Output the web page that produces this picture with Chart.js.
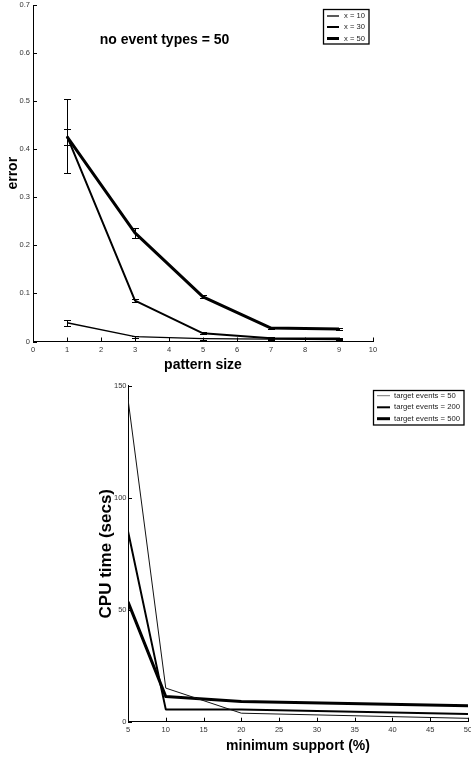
<!DOCTYPE html>
<html><head><meta charset="utf-8">
<script src="https://cdn.jsdelivr.net/npm/chart.js@4.4.0/dist/chart.umd.min.js"></script>
<style>
html,body{margin:0;padding:0;background:#fff;width:471px;height:757px;overflow:hidden}
#c1{position:absolute;left:0;top:0}
#c2{position:absolute;left:0;top:375px}
</style></head><body>
<canvas id="c1" width="471" height="375"></canvas>
<canvas id="c2" width="471" height="382"></canvas>
<script>
// ---------- Chart 1 data ----------
const patternSizes = [1, 3, 5, 7, 9];
const errX10 = [0.039, 0.010, 0.006, 0.005, 0.004];
const errX30 = [0.427, 0.085, 0.017, 0.007, 0.006];
const errX50 = [0.426, 0.226, 0.093, 0.028, 0.026];
const sdX10 = [0.006, 0.002, 0.002, 0.002, 0.002];
const sdX30 = [0.077, 0.003, 0.002, 0.002, 0.002];
const sdX50 = [0.017, 0.010, 0.003, 0.002, 0.002];
const seriesLabels1 = ['x = 10', 'x = 30', 'x = 50'];
const xTicks1 = [0, 1, 2, 3, 4, 5, 6, 7, 8, 9, 10];
const yTicks1 = [0, 0.1, 0.2, 0.3, 0.4, 0.5, 0.6, 0.7];
const title1 = 'no event types = 50';
const xTitle1 = 'pattern size';
const yTitle1 = 'error';

// ---------- Chart 2 data ----------
const minSupport = [5, 10, 20, 50];
const cpu50 = [144, 15, 3.8, 1.5];
const cpu200 = [85, 5.5, 5.5, 3.4];
const cpu500 = [53.5, 11.2, 9, 7.1];
const seriesLabels2 = ['target events = 50', 'target events = 200', 'target events = 500'];
const xTicks2 = [5, 10, 15, 20, 25, 30, 35, 40, 45, 50];
const yTicks2 = [0, 50, 100, 150];
const xTitle2 = 'minimum support (%)';
const yTitle2 = 'CPU time (secs)';

const SANS = "'Liberation Sans', Arial, Helvetica, sans-serif";

function pts(xs, ys) { return xs.map((x, i) => ({x: x, y: ys[i]})); }

const decor = {
  id: 'decor',
  afterDatasetsDraw(chart, args, o) {
    const ctx = chart.ctx, xs = chart.scales.x, ys = chart.scales.y;
    ctx.save();
    ctx.strokeStyle = '#000'; ctx.lineWidth = 1;
    chart.data.datasets.forEach(ds => {
      if (!ds.errors) return;
      ds.data.forEach((p, i) => {
        const e = ds.errors[i];
        const px = Math.round(xs.getPixelForValue(p.x)) + 0.5;
        const y1 = Math.round(ys.getPixelForValue(p.y + e)) + 0.5;
        const y2 = Math.round(ys.getPixelForValue(p.y - e)) + 0.5;
        ctx.beginPath();
        ctx.moveTo(px, y1); ctx.lineTo(px, y2);
        ctx.moveTo(px - o.cap, y1); ctx.lineTo(px + o.cap, y1);
        ctx.moveTo(px - o.cap, y2); ctx.lineTo(px + o.cap, y2);
        ctx.stroke();
      });
    });
    ctx.restore();
  },
  afterDraw(chart, args, o) {
    const ctx = chart.ctx, xs = chart.scales.x, ys = chart.scales.y;
    ctx.save();
    ctx.strokeStyle = '#000'; ctx.lineWidth = 1;
    ctx.beginPath();
    xs.ticks.forEach(t => {
      const p = Math.round(xs.getPixelForValue(t.value)) + 0.5;
      ctx.moveTo(p, xs.top); ctx.lineTo(p, xs.top - o.tick);
    });
    ys.ticks.forEach(t => {
      const p = Math.round(ys.getPixelForValue(t.value)) + 0.5;
      ctx.moveTo(ys.right, p); ctx.lineTo(ys.right + o.tick, p);
    });
    ctx.stroke();
    if (o.title) {
      ctx.font = o.title.font; ctx.fillStyle = '#000';
      ctx.textAlign = 'center'; ctx.textBaseline = 'middle';
      ctx.fillText(o.title.text, o.title.x, o.title.y);
    }
    const L = o.legend;
    ctx.fillStyle = '#fff'; ctx.fillRect(L.x, L.y, L.w, L.h);
    ctx.lineWidth = L.border; ctx.strokeStyle = '#000';
    ctx.strokeRect(L.x, L.y, L.w, L.h);
    ctx.font = L.font; ctx.textAlign = 'left'; ctx.textBaseline = 'middle';
    chart.data.datasets.forEach((ds, i) => {
      const y = L.rows[i];
      ctx.strokeStyle = ds.legendColor || ds.borderColor;
      ctx.lineWidth = ds.borderWidth;
      ctx.beginPath(); ctx.moveTo(L.lx1, y); ctx.lineTo(L.lx2, y); ctx.stroke();
      ctx.fillStyle = '#222'; ctx.fillText(ds.label, L.tx, y);
    });
    ctx.restore();
  }
};

function makeScales(cfg) {
  const tickFont = {family: SANS, size: 7.5};
  return {
    x: {
      type: 'linear', min: cfg.xmin, max: cfg.xmax,
      afterBuildTicks(s) { s.ticks = cfg.xticks.map(v => ({value: v})); },
      ticks: {padding: cfg.xpad, font: tickFont, color: '#333', maxRotation: 0, autoSkip: false},
      grid: {display: false, drawTicks: false},
      border: {display: true, color: '#000', width: 1},
      title: {display: true, text: cfg.xtitle, color: '#000',
        font: {family: SANS, size: 14, weight: 'bold', lineHeight: 1},
        padding: {top: 0, bottom: cfg.xtpad}},
      afterFit(s) { s.height = cfg.xh; s.paddingLeft = 0; s.paddingRight = 0; }
    },
    y: {
      type: 'linear', min: cfg.ymin, max: cfg.ymax,
      afterBuildTicks(s) { s.ticks = cfg.yticks.map(v => ({value: v})); },
      ticks: {padding: cfg.ypad, font: tickFont, color: '#333', autoSkip: false},
      grid: {display: false, drawTicks: false},
      border: {display: true, color: '#000', width: 1},
      title: {display: true, text: cfg.ytitle, color: '#000',
        font: {family: SANS, size: cfg.ytsize, weight: 'bold', lineHeight: 1},
        padding: {top: cfg.ytpad, bottom: 0}},
      afterFit(s) { s.width = cfg.yw; s.paddingTop = 0; s.paddingBottom = 0; }
    }
  };
}

const common = {
  responsive: false, animation: false, devicePixelRatio: 1,
  elements: {point: {radius: 0, hoverRadius: 0}, line: {tension: 0, borderJoinStyle: 'round', borderCapStyle: 'butt'}},
};

new Chart(document.getElementById('c1'), {
  type: 'line',
  data: {datasets: [
    {label: seriesLabels1[0], data: pts(patternSizes, errX10), errors: sdX10, borderColor: '#000', borderWidth: 1.3, fill: false},
    {label: seriesLabels1[1], data: pts(patternSizes, errX30), errors: sdX30, borderColor: '#000', borderWidth: 2, fill: false},
    {label: seriesLabels1[2], data: pts(patternSizes, errX50), errors: sdX50, borderColor: '#000', borderWidth: 3, fill: false}
  ]},
  options: Object.assign({}, common, {
    layout: {padding: {left: 0, top: 5, right: 98, bottom: 0}},
    scales: makeScales({xmin: 0, xmax: 10, xticks: xTicks1, ymin: 0, ymax: 0.7, yticks: yTicks1,
      xpad: 4, ypad: 3, xtitle: xTitle1, ytitle: yTitle1, xtpad: 3, ytpad: 6, ytsize: 14, xh: 33.5, yw: 33}),
    plugins: {
      legend: {display: false}, tooltip: {enabled: false},
      decor: {cap: 3.5, tick: 4,
        title: {text: title1, x: 164.5, y: 40, font: 'bold 14px ' + SANS},
        legend: {x: 323.5, y: 9.5, w: 45.5, h: 34.5, border: 1.3, font: '7.6px ' + SANS,
          rows: [16, 27, 38.5], lx1: 327, lx2: 339, tx: 344}}
    }
  }),
  plugins: [decor]
});

new Chart(document.getElementById('c2'), {
  type: 'line',
  data: {datasets: [
    {label: seriesLabels2[0], data: pts(minSupport, cpu50), borderColor: '#111', legendColor: '#777', borderWidth: 1, fill: false},
    {label: seriesLabels2[1], data: pts(minSupport, cpu200), borderColor: '#000', borderWidth: 2, fill: false},
    {label: seriesLabels2[2], data: pts(minSupport, cpu500), borderColor: '#000', borderWidth: 3, fill: false}
  ]},
  options: Object.assign({}, common, {
    layout: {padding: {left: 0, top: 10.7, right: 3, bottom: 0}},
    scales: makeScales({xmin: 5, xmax: 50, xticks: xTicks2, ymin: 0, ymax: 150, yticks: yTicks2,
      xpad: 3.7, ypad: 1.5, xtitle: xTitle2, ytitle: yTitle2, xtpad: 4.3, ytpad: 97.5, ytsize: 17, xh: 35.3, yw: 128}),
    plugins: {
      legend: {display: false}, tooltip: {enabled: false},
      decor: {cap: 3.5, tick: 4,
        legend: {x: 373.5, y: 15.5, w: 90.5, h: 34.5, border: 1.3, font: '7.7px ' + SANS,
          rows: [20.7, 32.3, 43.7], lx1: 377, lx2: 390, tx: 394}}
    }
  }),
  plugins: [decor]
});
</script>
</body></html>
